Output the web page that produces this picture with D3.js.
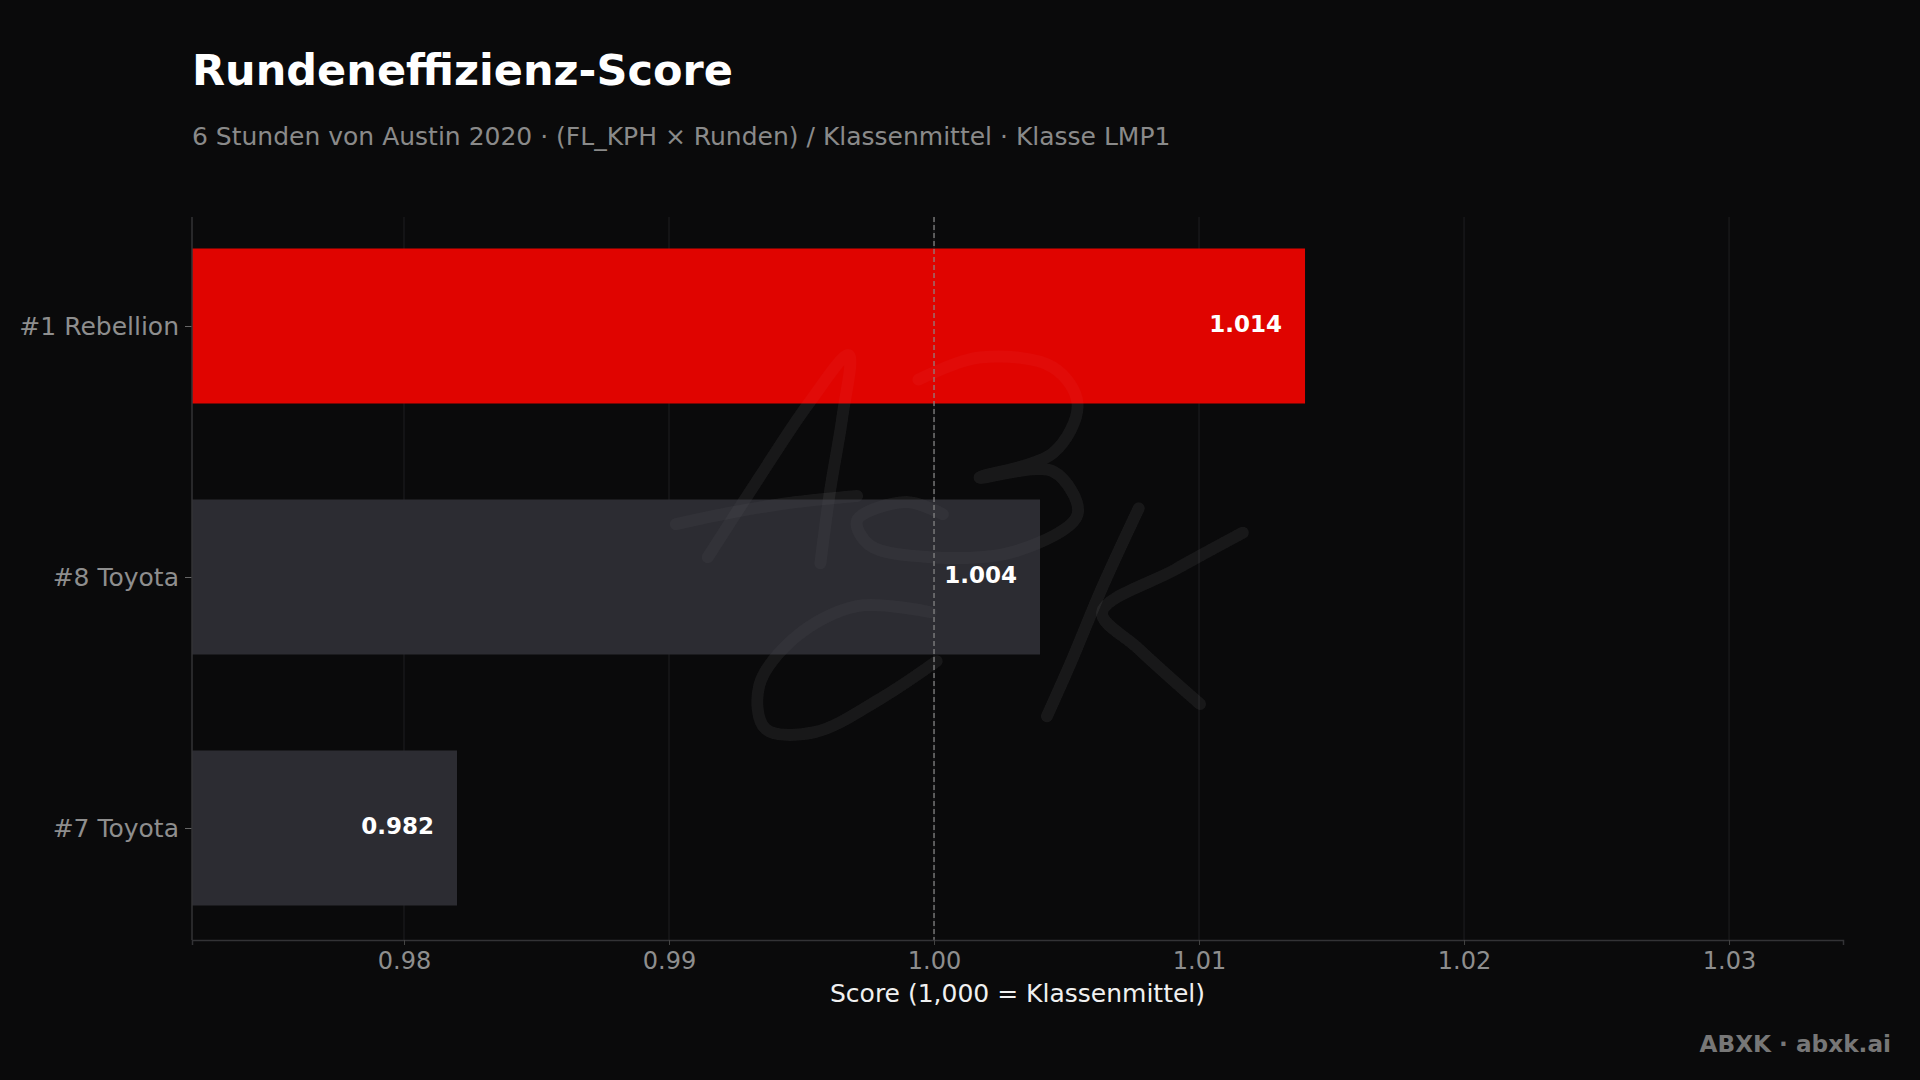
<!DOCTYPE html>
<html><head><meta charset="utf-8">
<script src="https://cdn.jsdelivr.net/npm/d3@7"></script>
<style>html,body{margin:0;padding:0;background:#0a0a0b;}svg{display:block;}</style>
</head><body>
<script>
const categories = ["#1 Rebellion", "#8 Toyota", "#7 Toyota"];
const scores = [1.014, 1.004, 0.982];
const highlight = [true, false, false];
const xTicks = [0.98, 0.99, 1.00, 1.01, 1.02, 1.03];
const referenceValue = 1.0;

(function(){
const W = 1920, H = 1080;
const font = "DejaVu Sans, Verdana, sans-serif";
const svg = d3.select("body").append("svg").attr("width", W).attr("height", H);
svg.append("rect").attr("width", W).attr("height", H).attr("fill", "#0a0a0b");

const pL = 192, pR = 1843, pT = 217, pB = 940;
const x = d3.scaleLinear().domain([0.972, 1.0343]).range([pL, pR]);
const y = d3.scalePoint().domain(categories).range([326, 828]);
const barH = 155;

// grid
svg.append("g").selectAll("line").data(xTicks).join("line")
  .attr("x1", d => x(d)).attr("x2", d => x(d)).attr("y1", pT).attr("y2", pB)
  .attr("stroke", "#1c1c1e").attr("stroke-width", 1.2);

// watermark
const s = 1.2245;
const paths = [
  [[578,455],[620,390],[660,330],[693,290],[688,340],[678,400],[670,460]],
  [[552,428],[600,418],[650,410],[700,405]],
  [[750,310],[800,292],[860,300],[880,330],[860,370],[800,390],[860,385],[880,420],[830,450],[760,455],[710,445],[700,425],[740,410],[770,420]],
  [[760,500],[700,495],[650,520],[620,560],[625,595],[665,598],[720,570],[765,540]],
  [[930,415],[900,480],[875,540],[855,585]],
  [[1015,435],[960,465],[900,500],[930,530],[980,575]]
];
const line = d3.line().x(d => d[0]*s).y(d => d[1]*s).curve(d3.curveCatmullRom);
const wm = svg.append("g").attr("fill", "none").attr("stroke", "#ffffff").attr("stroke-opacity", 0.03)
  .attr("stroke-width", 12).attr("stroke-linecap", "round").attr("stroke-linejoin", "round");
paths.forEach(p => wm.append("path").attr("d", line(p)));

// bars
svg.append("g").selectAll("rect").data(categories).join("rect")
  .attr("x", x(0.972)).attr("y", d => y(d) - barH/2)
  .attr("width", (d,i) => x(scores[i]) - x(0.972)).attr("height", barH)
  .attr("fill", (d,i) => highlight[i] ? "#e00400" : "#2c2c32");

const wm2 = svg.append("g").attr("fill", "none").attr("stroke", "#ffffff").attr("stroke-opacity", 0.03)
  .attr("stroke-width", 12).attr("stroke-linecap", "round").attr("stroke-linejoin", "round");
paths.forEach(p => wm2.append("path").attr("d", line(p)));

// reference line
svg.append("line").attr("x1", x(referenceValue)).attr("x2", x(referenceValue)).attr("y1", pT).attr("y2", pB)
  .attr("stroke", "#8a8a8a").attr("stroke-width", 1.2).attr("stroke-dasharray", "5,3");

// value labels
svg.append("g").selectAll("text").data(categories).join("text")
  .attr("x", (d,i) => x(scores[i]) - 23).attr("y", d => y(d) - 1)
  .attr("text-anchor", "end").attr("dominant-baseline", "middle")
  .attr("font-family", font).attr("font-weight", "bold").attr("font-size", 23)
  .attr("fill", "#ffffff").text((d,i) => scores[i].toFixed(3));

// axes
const xAxis = svg.append("g").attr("transform", `translate(0,${pB})`)
  .call(d3.axisBottom(x).tickValues(xTicks).tickFormat(d3.format(".2f")).tickSize(5).tickPadding(7));
xAxis.select(".domain").attr("stroke", "#333336").attr("stroke-width", 1.5);
xAxis.selectAll(".tick line").attr("stroke", "#444");
xAxis.selectAll("text").attr("font-family", font).attr("font-size", 24).attr("fill", "#8e8e8e");

const yAxis = svg.append("g").attr("transform", `translate(${pL},0)`)
  .call(d3.axisLeft(y).tickSize(7).tickPadding(6));
yAxis.select(".domain").remove();
yAxis.selectAll(".tick line").attr("stroke", "#666");
yAxis.selectAll("text").attr("font-family", font).attr("font-size", 25).attr("fill", "#8e8e8e");
svg.append("line").attr("x1", pL).attr("x2", pL).attr("y1", pT).attr("y2", pB)
  .attr("stroke", "#333336").attr("stroke-width", 1.5);

// axis title
svg.append("text").attr("x", (pL+pR)/2).attr("y", 1002).attr("text-anchor", "middle")
  .attr("font-family", font).attr("font-size", 25).attr("fill", "#f0f0f0").text("Score (1,000 = Klassenmittel)");

// title & subtitle
svg.append("text").attr("x", 192).attr("y", 85).attr("font-family", font).attr("font-weight", "bold")
  .attr("font-size", 43).attr("fill", "#ffffff").text("Rundeneffizienz-Score");
svg.append("text").attr("x", 192).attr("y", 145).attr("font-family", font)
  .attr("font-size", 25).attr("fill", "#8a8a8a")
  .text("6 Stunden von Austin 2020 · (FL_KPH × Runden) / Klassenmittel · Klasse LMP1");

svg.append("text").attr("x", 1891).attr("y", 1052).attr("text-anchor", "end").attr("font-family", font)
  .attr("font-weight", "bold").attr("font-size", 23.2).attr("fill", "#777777").text("ABXK · abxk.ai");
})();
</script>
</body></html>
